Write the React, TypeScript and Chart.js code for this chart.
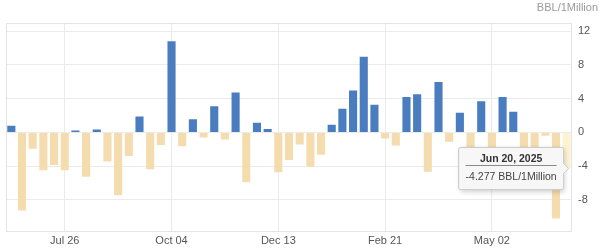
import React, { useEffect, useRef } from "react";
import { Chart, registerables } from "chart.js";

Chart.register(...registerables);

const categories: string[] = [
  "Jun 21, 2024", "Jun 28, 2024", "Jul 05, 2024", "Jul 12, 2024", "Jul 19, 2024", "Jul 26, 2024",
  "Aug 02, 2024", "Aug 09, 2024", "Aug 16, 2024", "Aug 23, 2024", "Aug 30, 2024", "Sep 06, 2024",
  "Sep 13, 2024", "Sep 20, 2024", "Sep 27, 2024", "Oct 04, 2024", "Oct 11, 2024", "Oct 18, 2024",
  "Oct 25, 2024", "Nov 01, 2024", "Nov 08, 2024", "Nov 15, 2024", "Nov 22, 2024", "Nov 29, 2024",
  "Dec 06, 2024", "Dec 13, 2024", "Dec 20, 2024", "Dec 27, 2024", "Jan 03, 2025", "Jan 10, 2025",
  "Jan 17, 2025", "Jan 24, 2025", "Jan 31, 2025", "Feb 07, 2025", "Feb 14, 2025", "Feb 21, 2025",
  "Feb 28, 2025", "Mar 07, 2025", "Mar 14, 2025", "Mar 21, 2025", "Mar 28, 2025", "Apr 04, 2025",
  "Apr 11, 2025", "Apr 18, 2025", "Apr 25, 2025", "May 02, 2025", "May 09, 2025", "May 16, 2025",
  "May 23, 2025", "May 30, 2025", "Jun 06, 2025", "Jun 13, 2025", "Jun 20, 2025",
];

const values: number[] = [
  0.8, -9.25, -1.93, -4.49, -3.86, -4.49,
  0.24, -5.24, 0.35, -3.46, -7.44, -2.8,
  1.89, -4.37, -1.5, 10.79, -1.65, 1.57,
  -0.59, 3.11, -0.83, 4.72, -5.9, 1.14,
  0.39, -4.72, -3.27, -1.42, -4.06, -2.64,
  0.91, 2.8, 4.96, 8.98, 3.27, -0.71,
  -1.54, 4.21, 4.53, -4.65, 5.98, -1.1,
  2.32, -2.5, 3.7, -2.0, 4.21, 2.44,
  -2.0, -2.3, -0.4, -10.2, -4.277,
];

const xTickLabels: string[] = ["Jul 26", "Oct 04", "Dec 13", "Feb 21", "May 02"];
const yTickValues: number[] = [-8, -4, 0, 4, 8, 12];
const unitLabel = "BBL/1Million";
const activeIndex = values.length - 1;

const BLUE = "#4a7dbf";
const TAN = "#f5dcae";
const BLUE_HOVER = "#7fa5d6";
const TAN_HOVER = "#fdf2d2";
const FONT = 'Arial, "Liberation Sans", sans-serif';

export default function App() {
  const canvasRef = useRef<HTMLCanvasElement | null>(null);

  useEffect(() => {
    document.body.style.margin = "0";
    document.body.style.overflow = "hidden";
    const canvas = canvasRef.current;
    if (!canvas) return;

    const framePlugin = {
      id: "frame",
      beforeDatasetsDraw(chart: any) {
        const { ctx, chartArea } = chart;
        ctx.save();
        ctx.strokeStyle = "#e4e4e4";
        ctx.lineWidth = 1;
        ctx.strokeRect(
          Math.round(chartArea.left) + 0.5,
          Math.round(chartArea.top) + 0.5,
          Math.round(chartArea.right - chartArea.left) - 1,
          Math.round(chartArea.bottom - chartArea.top) - 1
        );
        ctx.restore();
      },
      beforeTooltipDraw(chart: any, args: any) {
        const t = args.tooltip;
        if (!t || !t.opacity) return;
        const { ctx } = chart;
        ctx.save();
        ctx.shadowColor = "rgba(0,0,0,0.18)";
        ctx.shadowBlur = 5;
        ctx.shadowOffsetX = 1;
        ctx.shadowOffsetY = 2;
        ctx.fillStyle = "rgba(247,247,247,1)";
        ctx.fillRect(t.x, t.y, t.width, t.height);
        ctx.restore();
      },
      afterTooltipDraw(chart: any, args: any) {
        const t = args.tooltip;
        if (!t || !t.opacity) return;
        const { ctx } = chart;
        ctx.save();
        ctx.strokeStyle = "#8a8a8a";
        ctx.lineWidth = 1;
        const y = Math.round(t.y + 18) + 0.5;
        ctx.beginPath();
        ctx.moveTo(t.x + 7, y);
        ctx.lineTo(t.x + t.width - 7, y);
        ctx.stroke();
        ctx.restore();
      },
    };

    const chart = new Chart(canvas, {
      type: "bar",
      data: {
        labels: categories,
        datasets: [
          {
            data: values,
            backgroundColor: (c: any) => (c.raw >= 0 ? BLUE : TAN),
            hoverBackgroundColor: (c: any) => (c.raw >= 0 ? BLUE_HOVER : TAN_HOVER),
            borderWidth: 0,
            categoryPercentage: 1,
            barPercentage: 0.76,
          },
        ],
      },
      options: {
        responsive: false,
        animation: false,
        events: [],
        layout: { padding: { left: 6, right: 2, top: 0, bottom: 0 } },
        font: { family: FONT },
        plugins: {
          legend: { display: false },
          title: {
            display: true,
            text: unitLabel,
            align: "end",
            color: "#9a9a9a",
            font: { family: FONT, size: 11, weight: "normal" },
            padding: { top: 1, bottom: 8.5 },
          },
          tooltip: {
            enabled: true,
            xAlign: "right",
            yAlign: "center",
            caretSize: 5,
            caretPadding: -2,
            cornerRadius: 2,
            backgroundColor: "rgba(247,247,247,1)",
            borderColor: "#c8c8c8",
            borderWidth: 1,
            titleColor: "#333333",
            titleFont: { family: FONT, size: 10.5, weight: "bold" },
            titleAlign: "center",
            titleMarginBottom: 6,
            bodyColor: "#444444",
            bodyFont: { family: FONT, size: 10.5 },
            bodyAlign: "center",
            padding: { top: 5, bottom: 6, left: 7, right: 7 },
            displayColors: false,
            callbacks: {
              title: (items: any[]) => categories[items[0].dataIndex],
              label: (item: any) => `${values[item.dataIndex]} ${unitLabel}`,
            },
          },
        },
        scales: {
          x: {
            type: "category",
            offset: true,
            grid: {
              offset: false,
              drawTicks: false,
              color: (c: any) => (c.tick && c.tick.label ? "#ebebeb" : "rgba(0,0,0,0)"),
            },
            border: { display: false },
            ticks: {
              autoSkip: false,
              maxRotation: 0,
              minRotation: 0,
              padding: 2,
              color: "#555555",
              font: { family: FONT, size: 11 },
              callback: (_v: any, index: number) => {
                const short = categories[index].slice(0, 6);
                return xTickLabels.includes(short) ? short : "";
              },
            },
            afterFit: (scale: any) => {
              scale.height = 18;
            },
          },
          y: {
            type: "linear",
            position: "right",
            min: -11.8,
            max: 13,
            grid: { color: "#ebebeb", drawTicks: false },
            border: { display: false },
            ticks: {
              padding: 6,
              color: "#555555",
              font: { family: FONT, size: 11 },
            },
            afterBuildTicks: (scale: any) => {
              scale.ticks = yTickValues.map((v) => ({ value: v }));
            },
            afterFit: (scale: any) => {
              scale.width = 26;
            },
          },
        },
      },
      plugins: [framePlugin],
    } as any);

    chart.setActiveElements([{ datasetIndex: 0, index: activeIndex }]);
    chart.tooltip?.setActiveElements([{ datasetIndex: 0, index: activeIndex }], { x: 0, y: 0 });
    chart.update();

    return () => {
      chart.destroy();
    };
  }, []);

  return (
    <div style={{ width: 600, height: 250, position: "relative" }}>
      <canvas ref={canvasRef} width={600} height={250} style={{ display: "block" }} />
    </div>
  );
}
